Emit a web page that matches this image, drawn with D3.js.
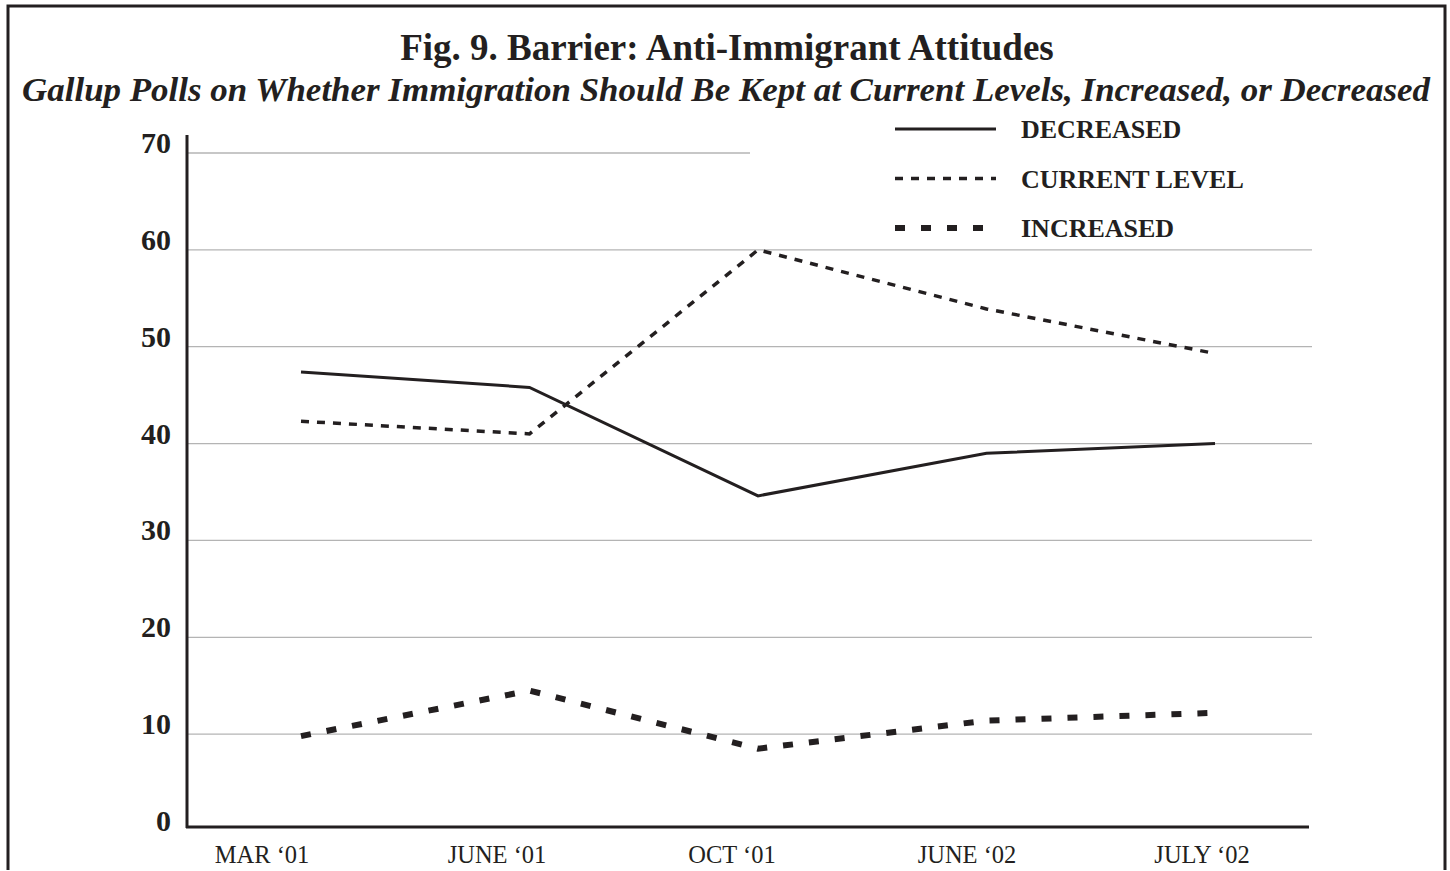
<!doctype html>
<html lang="en">
<head>
<meta charset="utf-8">
<title>Fig. 9. Barrier: Anti-Immigrant Attitudes</title>
<script src="https://cdn.jsdelivr.net/npm/d3@7"></script>
<style>
  body { margin: 0; background: #fff; }
  svg { display: block; font-family: "Liberation Serif", "Times New Roman", serif; }
  .ytick text { font-size: 30px; font-weight: bold; fill: #231f20; }
  .xtick text { font-size: 24.5px; fill: #231f20; }
  .legend text { font-size: 26px; font-weight: bold; fill: #231f20; }
</style>
</head>
<body>
<svg width="1450" height="871"></svg>
<script>
var periods = ["MAR \u201801", "JUNE \u201801", "OCT \u201801", "JUNE \u201802", "JULY \u201802"];
var decreased = [47.4, 45.8, 34.6, 39.0, 40.0];
var currentLevel = [42.3, 41.0, 60.0, 53.9, 49.3];
var increased = [9.8, 14.5, 8.5, 11.4, 12.2];
var yTicks = [0, 10, 20, 30, 40, 50, 60, 70];
var seriesNames = ["DECREASED", "CURRENT LEVEL", "INCREASED"];

var ink = "#231f20";
var svg = d3.select("svg");

// frame
svg.append("path")
  .attr("d", "M8,870 V6 H1445 V870")
  .attr("fill", "none").attr("stroke", ink).attr("stroke-width", 3);

// titles
svg.append("text").attr("x", 727).attr("y", 60)
  .attr("text-anchor", "middle")
  .style("font-size", "37px").style("font-weight", "bold").style("fill", ink)
  .text("Fig. 9. Barrier: Anti-Immigrant Attitudes");
svg.append("text").attr("x", 726).attr("y", 101)
  .attr("text-anchor", "middle")
  .attr("textLength", 1408).attr("lengthAdjust", "spacingAndGlyphs")
  .style("font-size", "33px").style("font-weight", "bold").style("font-style", "italic").style("fill", ink)
  .text("Gallup Polls on Whether Immigration Should Be Kept at Current Levels, Increased, or Decreased");

var y = d3.scaleLinear().domain([0, 70]).range([831, 153]);
var x = d3.scalePoint().domain(periods).range([301, 1215]);
var xLab = d3.scalePoint().domain(periods).range([262, 1202]);

// gridlines (top one stops short of the legend)
svg.append("g").selectAll("line")
  .data(yTicks.filter(d => d > 0))
  .enter().append("line")
    .attr("x1", 187)
    .attr("x2", d => d === 70 ? 750 : 1312)
    .attr("y1", d => y(d)).attr("y2", d => y(d))
    .attr("stroke", "#b4b4b4").attr("stroke-width", 1.3);

// axes
svg.append("line").attr("x1", 187).attr("x2", 187).attr("y1", 135).attr("y2", 828)
  .attr("stroke", ink).attr("stroke-width", 3);
svg.append("line").attr("x1", 186).attr("x2", 1309).attr("y1", 827).attr("y2", 827)
  .attr("stroke", ink).attr("stroke-width", 3);

svg.append("g").attr("class", "ytick").selectAll("text")
  .data(yTicks).enter().append("text")
    .attr("x", 171).attr("y", d => y(d) - 0)
    .attr("text-anchor", "end")
    .text(d => d);

svg.append("g").attr("class", "xtick").selectAll("text")
  .data(periods).enter().append("text")
    .attr("x", d => xLab(d)).attr("y", 863)
    .attr("text-anchor", "middle")
    .text(d => d);

// series
var styles = [
  { vals: decreased, dash: null, w: 3 },
  { vals: currentLevel, dash: "8,8", w: 3.5 },
  { vals: increased, dash: "10,16", w: 6 }
];
var line = d3.line().x((d, i) => x(periods[i])).y(d => y(d));
styles.forEach(s => {
  svg.append("path").datum(s.vals)
    .attr("d", line)
    .attr("fill", "none").attr("stroke", ink)
    .attr("stroke-width", s.w)
    .attr("stroke-dasharray", s.dash);
});

// legend
var lg = svg.append("g").attr("class", "legend");
seriesNames.forEach((name, i) => {
  var ly = 129 + i * 49.5;
  lg.append("line").attr("x1", 895).attr("x2", 996).attr("y1", ly).attr("y2", ly)
    .attr("stroke", ink).attr("stroke-width", styles[i].w)
    .attr("stroke-dasharray", styles[i].dash);
  lg.append("text").attr("x", 1021).attr("y", ly + 9).text(name);
});
</script>
</body>
</html>
